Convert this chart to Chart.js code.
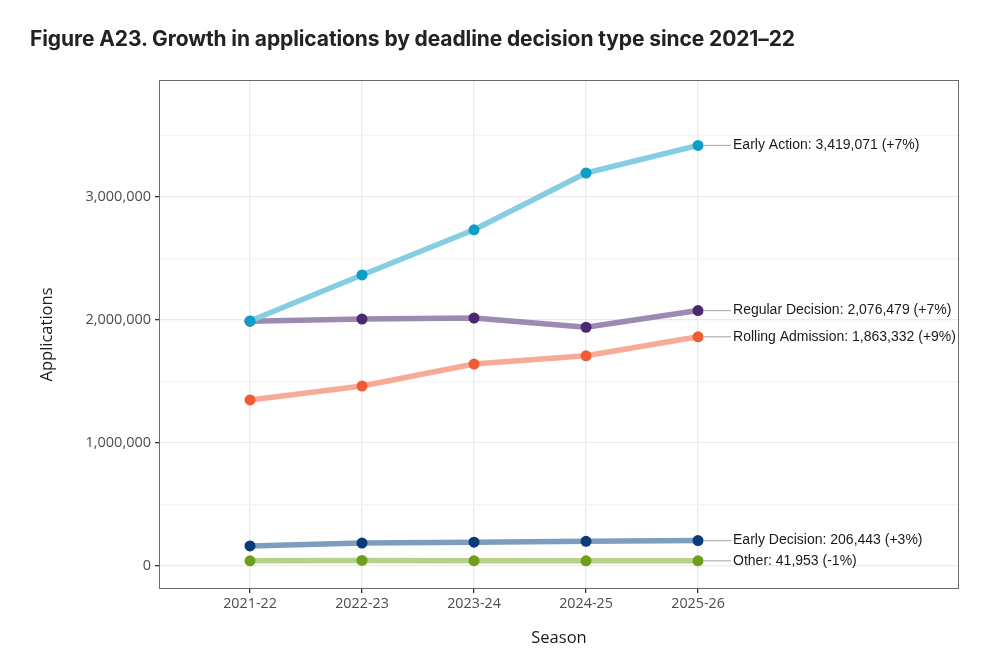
<!DOCTYPE html>
<html>
<head>
<meta charset="utf-8">
<script src="https://cdn.jsdelivr.net/npm/chart.js@4"></script>
<style>
  html, body { margin:0; padding:0; background:#fff; }
  #wrap { position:relative; width:990px; height:660px; }
  #title { position:absolute; left:30px; top:26px; font-family:Inter, "Open Sans", sans-serif; font-weight:700; font-size:21px; color:#222; letter-spacing:-0.1px; white-space:nowrap; }
  canvas { position:absolute; left:0; top:0; }
</style>
</head>
<body>
<div id="wrap">
  <canvas id="c" width="990" height="660"></canvas>
  <div id="title">Figure A23. Growth in applications by deadline decision type since 2021–22</div>
</div>
<script>
// ---- data ----
const seasons = ["2021-22", "2022-23", "2023-24", "2024-25", "2025-26"];
const earlyAction     = [1992000, 2366000, 2733000, 3195000, 3419071];
const regularDecision = [1990000, 2007000, 2016000, 1941000, 2076479];
const rollingAdmission= [1350000, 1463000, 1642000, 1709000, 1863332];
const earlyDecision   = [163000, 186000, 194000, 200430, 206443];
const other           = [42000, 45500, 43500, 42377, 41953];
const endLabels = {
  "Early Action": "Early Action: 3,419,071 (+7%)",
  "Regular Decision": "Regular Decision: 2,076,479 (+7%)",
  "Rolling Admission": "Rolling Admission: 1,863,332 (+9%)",
  "Early Decision": "Early Decision: 206,443 (+3%)",
  "Other": "Other: 41,953 (-1%)"
};
const yTickValues = [0, 500000, 1000000, 1500000, 2000000, 2500000, 3000000, 3500000];

function pts(arr){ return arr.map((v,i)=>({x:i, y:v})); }
function ds(label, arr, line, pt){
  return { label, data: pts(arr), borderColor: line, backgroundColor: pt,
    pointBackgroundColor: pt, pointBorderWidth: 0, pointRadius: 5.5, pointHoverRadius: 5.5,
    borderWidth: 5.5, tension: 0, borderCapStyle: 'round', borderJoinStyle: 'round' };
}

const panelBorder = {
  id: 'panelBorder',
  beforeDatasetsDraw(chart){
    const {ctx, chartArea:a} = chart;
    ctx.save();
    ctx.strokeStyle = '#6b6b6b';
    ctx.lineWidth = 1;
    ctx.strokeRect(Math.round(a.left)+0.5, Math.round(a.top)+0.5, Math.round(a.right-a.left)-1, Math.round(a.bottom-a.top)-1);
    ctx.restore();
  }
};
const endLabelPlugin = {
  id: 'endLabels',
  afterDatasetsDraw(chart){
    const ctx = chart.ctx;
    ctx.save();
    chart.data.datasets.forEach((d, i) => {
      const meta = chart.getDatasetMeta(i);
      const p = meta.data[meta.data.length-1];
      ctx.strokeStyle = '#b5b5b5';
      ctx.lineWidth = 1.3;
      ctx.beginPath();
      ctx.moveTo(p.x + 6, p.y);
      ctx.lineTo(p.x + 33, p.y);
      ctx.stroke();
      ctx.fillStyle = '#1a1a1a';
      ctx.font = '14px "Liberation Sans", Arial, sans-serif';
      ctx.textBaseline = 'middle';
      ctx.textAlign = 'left';
      ctx.fillText(endLabels[d.label], p.x + 35, p.y);
    });
    ctx.restore();
  }
};

new Chart(document.getElementById('c'), {
  type: 'line',
  data: { datasets: [
    ds("Early Action", earlyAction, '#84cde2', '#0b9fc8'),
    ds("Early Decision", earlyDecision, '#7d9dbf', '#083b78'),
    ds("Other", other, '#b7d08b', '#6f9d1c'),
    ds("Rolling Admission", rollingAdmission, '#f6ab98', '#f05b33'),
    ds("Regular Decision", regularDecision, '#9c8ab2', '#4b2870')
  ]},
  options: {
    responsive: false,
    animation: false,
    events: [],
    layout: { padding: { top: 80, right: 31, left: 0, bottom: 0 } },
    plugins: { legend: { display: false }, tooltip: { enabled: false } },
    scales: {
      x: {
        type: 'linear', min: -0.8125, max: 6.33,
        afterBuildTicks(s){ s.ticks = seasons.map((_, i) => ({ value: i })); },
        afterFit(s){ s.height = 71; },
        ticks: { callback: v => seasons[v] ?? '', color: '#4d4d4d', font: { family: '"Open Sans", sans-serif', size: 14.3 }, padding: 2, maxRotation: 0, autoSkip: false },
        grid: { color: '#ebebeb', lineWidth: 1.3, tickLength: 4, tickColor: '#333', drawTicks: true },
        border: { display: false },
        title: { display: true, text: 'Season', color: '#1a1a1a', font: { family: '"Open Sans", sans-serif', size: 16.5 }, padding: { top: 10, bottom: 12 } }
      },
      y: {
        min: -187000, max: 3951000,
        afterBuildTicks(s){ s.ticks = yTickValues.map(v => ({ value: v })); },
        afterFit(s){ s.width = 159; },
        ticks: { callback: v => (v % 1000000 === 0 ? v.toLocaleString('en-US') : ''), color: '#4d4d4d', font: { family: '"Open Sans", sans-serif', size: 14.5 }, padding: 4 },
        grid: {
          color: c => (c.tick && c.tick.value % 1000000 === 0) ? '#ebebeb' : '#f4f4f4',
          lineWidth: 1.3, tickLength: 4,
          tickColor: c => (c.tick && c.tick.value % 1000000 === 0) ? '#333' : 'rgba(0,0,0,0)'
        },
        border: { display: false },
        title: { display: true, text: 'Applications', color: '#1a1a1a', font: { family: '"Open Sans", sans-serif', size: 16.5 }, padding: { top: 37, bottom: 0 } }
      }
    }
  },
  plugins: [panelBorder, endLabelPlugin]
});
</script>
</body>
</html>
